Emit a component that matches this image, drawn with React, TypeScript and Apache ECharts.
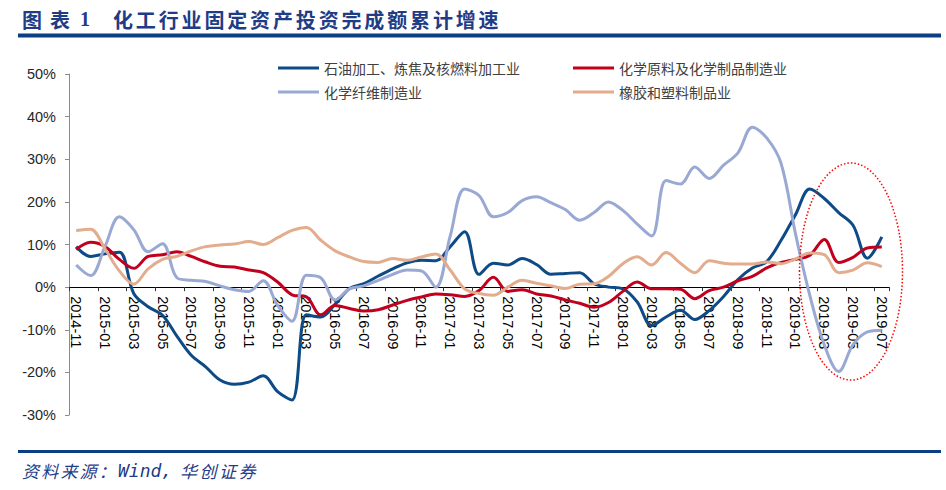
import React, { useEffect, useRef } from "react";
import * as echarts from "echarts";

const months = [
  "2014-11","2014-12","2015-01","2015-02","2015-03","2015-04","2015-05","2015-06","2015-07","2015-08","2015-09","2015-10","2015-11","2015-12",
  "2016-01","2016-02","2016-03","2016-04","2016-05","2016-06","2016-07","2016-08","2016-09","2016-10","2016-11","2016-12",
  "2017-01","2017-02","2017-03","2017-04","2017-05","2017-06","2017-07","2017-08","2017-09","2017-10","2017-11","2017-12",
  "2018-01","2018-02","2018-03","2018-04","2018-05","2018-06","2018-07","2018-08","2018-09","2018-10","2018-11","2018-12",
  "2019-01","2019-02","2019-03","2019-04","2019-05","2019-06","2019-07",
];

const seriesNames = ["石油加工、炼焦及核燃料加工业", "化学原料及化学制品制造业", "化学纤维制造业", "橡胶和塑料制品业"];

const petroleum = [
  9.5, 7.2, 7.8, 8.2, -1.5, -4.6, -6.6, -11.5, -16, -18.7,
  -21.8, -22.8, -22.3, -20.8, -24.5, -26.5, -6.5, -7, -4, -0.3,
  0.8, 2.6, 4.3, 5.7, 6.3, 6.2, 9.5, 13, 3, 5.6,
  5.2, 6.7, 5.3, 3, 3.2, 3.4, 0.8, 0, -0.4, -3.5,
  -9, -7, -5.4, -7.6, -5.5, -2.2, 1.8, 4.5, 6, 11,
  17, 23, 20.8, 17.5, 14.5, 6.8, 11.8,
];

const chemMaterials = [
  8.8, 10.5, 9.5, 6.5, 4.4, 7.2, 7.6, 8.3, 7.2, 5.9,
  4.9, 4.7, 4.0, 3.4, 1.2, -1.8, -2.3, -6.5, -4.3, -5,
  -5.6, -5.3, -4.2, -3.1, -2.3, -1.6, -1.8, -2.2, -0.8, 2.3,
  -1, -0.6, -1.6, -2.1, -3, -3.8, -4.7, -3.6, -1, 1.2,
  -0.4, -0.4, -0.5, -2.7, -0.8, 0, 1.5, 2.5, 4.5, 5.8,
  6.5, 7.5, 11.2, 5.8, 7, 9.2, 9.4,
];

const chemFiber = [
  5.2, 2.7, 9.5, 16.5, 13.5, 8.3, 10.2, 2.2, 1.6, 1.3,
  0.3, -0.6, -1, 1.5, -4.3, -8, 2.8, 2.2, -3, -0.4,
  0.3, 1.6, 3, 4, 3.8, 0, 12, 23, 21.5, 16.5,
  17.5, 20.3, 21.2, 19.8, 18.2, 15.7, 17.5, 20, 18, 14.8,
  12, 25, 24.2, 28.2, 25.5, 28.6, 31.5, 37.5, 35, 29,
  12.5, -2, -13.5, -19.8, -13.5, -10.5, -10.1,
];

const rubberPlastic = [
  13.3, 13.6, 9, 3.8, 0.7, 4.3, 6.5, 7.2, 8.5, 9.5,
  9.9, 10.1, 10.7, 10, 11.6, 13.3, 14, 11, 8.5, 7.1,
  6, 5.8, 6.7, 6.3, 7.1, 7.8, 4, -0.4, -1.5, -1.9,
  0, 1.6, 0.9, 0.3, -0.3, 0.7, 0.8, 2.5, 5.5, 7.1,
  5.2, 8.1, 5.6, 3.4, 6.2, 5.6, 5.4, 5.4, 5.9, 5.5,
  6.6, 8, 7.6, 3.4, 4, 5.7, 4.8,
];

const yTicks = { min: -30, max: 50, interval: 10 };

const colors = ["#0d4a86", "#c0001c", "#9aa9d3", "#e2ac8d"];

function charTexts(str: string, x0: number, pitch: number, y: number, font: string, fill: string) {
  return Array.from(str).map((ch, k) => ({
    type: "text",
    x: x0 + k * pitch,
    y,
    z: 100,
    style: {
      text: ch,
      font,
      fill,
      textVerticalAlign: "middle",
      verticalAlign: "middle",
    },
  }));
}

export default function App() {
  const ref = useRef<HTMLDivElement>(null);

  useEffect(() => {
    if (!ref.current) return;
    const chart = echarts.init(ref.current, null, { renderer: "svg" });
    const seriesData = [petroleum, chemMaterials, chemFiber, rubberPlastic];
    const titleFill = "#1f3c86";
    const titleFont = 'bold 20px "Noto Sans CJK SC"';
    const footFont = 'italic 17px "Noto Sans CJK SC"';

    const gridTop = 74;
    const gridBottom = 75;
    const gridHeight = 490 - gridTop - gridBottom;
    // move the category axis (line, ticks, labels) up to the zero line
    const zeroOffset = -(gridHeight * (0 - yTicks.min)) / (yTicks.max - yTicks.min);

    const legendPos = [
      [278, 61],
      [573, 61],
      [278, 85],
      [573, 85],
    ];

    chart.setOption({
      animation: false,
      backgroundColor: "#ffffff",
      grid: { left: 69, right: 57, top: gridTop, bottom: gridBottom, containLabel: false },
      legend: seriesNames.map((n, k) => ({
        data: [n],
        left: legendPos[k][0],
        top: legendPos[k][1],
        padding: 0,
        icon: "rect",
        itemWidth: 41,
        itemHeight: 3,
        selectedMode: false,
        textStyle: { fontSize: 14, color: "#404040", fontFamily: '"Noto Sans CJK SC"' },
      })),
      xAxis: {
        type: "category",
        data: months,
        boundaryGap: true,
        position: "bottom",
        offset: zeroOffset,
        axisLine: { onZero: false, lineStyle: { color: "#000000", width: 1 } },
        axisTick: { show: true, interval: 1, alignWithLabel: false, length: 4, lineStyle: { color: "#333333" } },
        axisLabel: {
          interval: 1,
          rotate: -90,
          margin: 9,
          fontSize: 14.5,
          color: "#000000",
          fontFamily: '"Liberation Sans", Arial',
        },
        splitLine: { show: false },
      },
      yAxis: {
        type: "value",
        min: yTicks.min,
        max: yTicks.max,
        interval: yTicks.interval,
        axisLine: { show: true, lineStyle: { color: "#8c8c8c" } },
        axisTick: { show: true, length: 4, lineStyle: { color: "#8c8c8c" } },
        axisLabel: {
          formatter: "{value}%",
          margin: 13,
          fontSize: 14.5,
          color: "#262626",
          fontFamily: '"Liberation Sans", Arial',
        },
        splitLine: { show: false },
      },
      series: seriesNames.map((n, k) => ({
        name: n,
        type: "line",
        data: seriesData[k],
        smooth: 0.35,
        showSymbol: false,
        symbol: "none",
        lineStyle: { color: colors[k], width: 3 },
        itemStyle: { color: colors[k] },
      })),
      graphic: [
        ...charTexts("图表", 22, 28, 19, titleFont, titleFill),
        {
          type: "text",
          x: 80,
          y: 19,
          z: 100,
          style: { text: "1", font: 'bold 20px "Liberation Serif"', fill: titleFill, textVerticalAlign: "middle", verticalAlign: "middle" },
        },
        ...charTexts("化工行业固定资产投资完成额累计增速", 113, 22.85, 19, titleFont, titleFill),
        { type: "rect", z: 100, shape: { x: 18, y: 33.5, width: 923, height: 4 }, style: { fill: "#0b3e84" } },
        { type: "rect", z: 100, shape: { x: 18, y: 450, width: 923, height: 3 }, style: { fill: "#0b3e84" } },
        ...charTexts("资料来源：", 22, 19.2, 470, footFont, titleFill),
        {
          type: "text",
          x: 118,
          y: 470,
          z: 100,
          style: { text: "Wind,", font: 'italic 18px "DejaVu Sans Mono"', fill: titleFill, textVerticalAlign: "middle", verticalAlign: "middle" },
        },
        ...charTexts("华创证券", 180, 19.5, 470, footFont, titleFill),
        {
          type: "ellipse",
          z: 100,
          shape: { cx: 851, cy: 271.5, rx: 51.5, ry: 108.5 },
          style: { fill: "transparent", stroke: "#ff0000", lineWidth: 1.5, lineDash: [1.5, 2] },
        },
      ],
    });
    return () => chart.dispose();
  }, []);

  return (
    <div
      ref={ref}
      style={{ position: "fixed", left: 0, top: 0, width: 946, height: 490, background: "#fff" }}
    />
  );
}
